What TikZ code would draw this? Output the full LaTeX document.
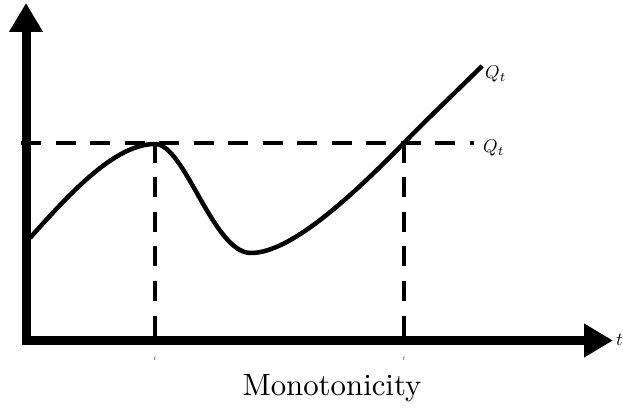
\documentclass[tikz,border=0pt]{standalone}
\usepackage{fontspec}
\usepackage{graphicx}
\usetikzlibrary{arrows.meta}
\begin{document}
\begin{tikzpicture}[x=1pt,y=-1pt,
  axisline/.style={line width=9pt,-{Triangle[length=29pt,width=32pt]}},
  guide/.style={line width=4.5pt,dash pattern=on 20pt off 14.5pt},
  curveline/.style={line width=4.5pt,line join=round},
  qlabel/.style={inner sep=0pt,anchor=west},
  ticklabel/.style={inner sep=0pt}]
\useasboundingbox (0,0) rectangle (623,411);
% coordinates
\coordinate (O) at (26,345);
\coordinate (Ytip) at (26,3);
\coordinate (Xstart) at (22,340.5);
\coordinate (Xtip) at (613,340.5);
\coordinate (Hstart) at (21,143);
\coordinate (Hend) at (474,143);
\coordinate (P1) at (155,143);
\coordinate (P1b) at (155,338);
\coordinate (P2) at (404,143);
\coordinate (P2b) at (404,338);
% dashed guides
\draw[guide] (Hstart) -- (Hend);
\draw[guide] (P1) -- (P1b);
\draw[guide] (P2) -- (P2b);
% curve
\draw[curveline] (30,238) .. controls (70,193) and (115,144) .. (155,144)
  .. controls (185,144) and (213,253) .. (251,253)
  .. controls (290,253) and (350,198) .. (404,143)
  .. controls (430,116) and (456,92) .. (482,66) coordinate (Cend);
% axes
\draw[axisline] (O) -- (Ytip);
\draw[axisline] (Xstart) -- (Xtip);
% labels
\node[qlabel] (q1) at (485,74) {\scalebox{1.85}{$Q_t$}};
\node[qlabel] (q2) at (483,148) {\scalebox{1.85}{$Q_t$}};
\node[qlabel] (tx) at (616,340) {\scalebox{1.85}{$t$}};
\node[ticklabel] (t1) at (155,359) {\scalebox{0.6}{$t$}};
\node[ticklabel] (t2) at (404,359) {\scalebox{0.6}{$t$}};
\node[inner sep=0pt] (cap) at (332,388) {\scalebox{3.08}{Monotonicity}};
\end{tikzpicture}
\end{document}
